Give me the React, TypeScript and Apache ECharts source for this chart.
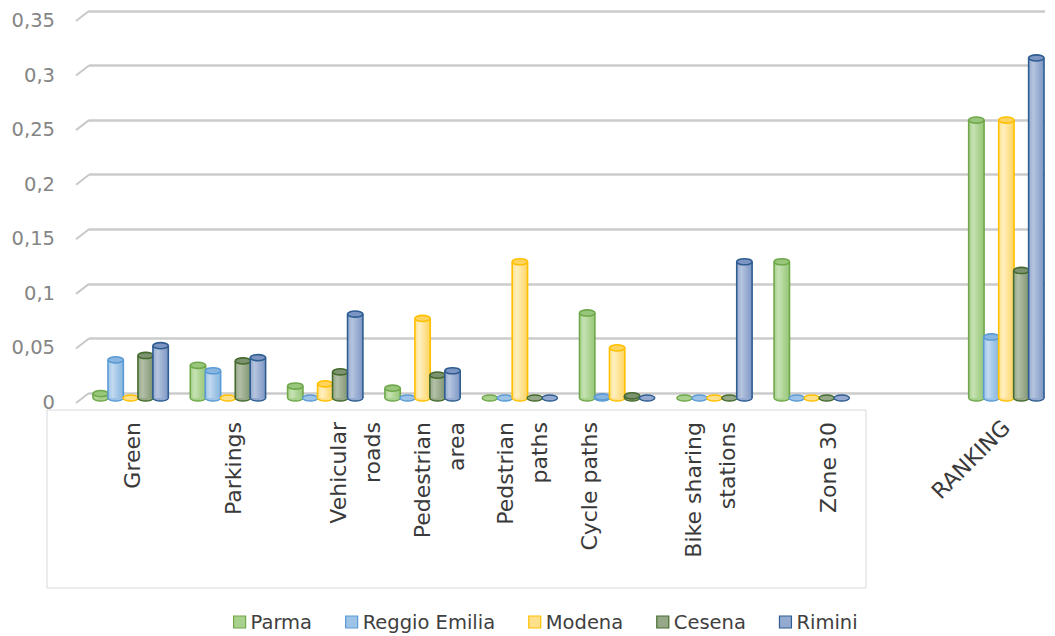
import React, { useEffect, useRef } from "react";
import * as echarts from "echarts";

// ---------- data ----------
const categories = [
  "Green",
  "Parkings",
  "Vehicular\nroads",
  "Pedestrian\narea",
  "Pedstrian\npaths",
  "Cycle paths",
  "Bike sharing\nstations",
  "Zone 30",
  "",
  "RANKING",
];
const seriesNames = ["Parma", "Reggio Emilia", "Modena", "Cesena", "Rimini"];
const parma = [0.004, 0.03, 0.011, 0.009, 0, 0.078, 0, 0.125, null, 0.255];
const reggioEmilia = [0.035, 0.025, 0, 0, 0, 0.001, 0, 0, null, 0.056];
const modena = [0, 0, 0.013, 0.073, 0.125, 0.046, 0, 0, null, 0.255];
const cesena = [0.039, 0.034, 0.024, 0.021, 0, 0.002, 0, 0, null, 0.117];
const rimini = [0.048, 0.037, 0.077, 0.025, 0, 0, 0.125, 0, null, 0.312];
const yTicks = [0, 0.05, 0.1, 0.15, 0.2, 0.25, 0.3, 0.35];

// ---------- styles ----------
const palette = [
  { edge: "#6fa84a", light: "#c6e2b3", mid: "#a9d18e", top: "#98c77b" },
  { edge: "#5b9bd5", light: "#c2daf1", mid: "#9dc3e6", top: "#88b6e0" },
  { edge: "#ffc000", light: "#fff0c0", mid: "#ffe08a", top: "#ffd45e" },
  { edge: "#466b2e", light: "#b3c0a8", mid: "#96a888", top: "#7d9270" },
  { edge: "#2e5d92", light: "#b6c5df", mid: "#95aad0", top: "#7c95c2" },
];
// horizontal nudge (px) of each category label, as in the original layout
const labelNudge = [2, 6, 30, 17, 3, -28, -4, 17, 0, 0];
const labelFont = { fontFamily: "DejaVu Sans", fontSize: 22, lineHeight: 34, color: "#3a3a3a" };

const allValues = [parma, reggioEmilia, modena, cesena, rimini];

function makeBarRender(si: number) {
  return (params: any, api: any) => {
    const ci = api.value(0);
    const v = api.value(1);
    const band = api.size([1, 0])[0];
    const step = band * 0.154;
    const w = band * 0.158;
    const c0 = api.coord([ci, 0]);
    const c1 = api.coord([ci, v]);
    const cx = c0[0] + (si - 2) * step;
    const baseY = c0[1];
    const topY = c1[1];
    const rx = w / 2;
    const ry = w * 0.2;
    const col = palette[si];
    const grad = new echarts.graphic.LinearGradient(0, 0, 1, 0, [
      { offset: 0, color: col.mid },
      { offset: 0.3, color: col.light },
      { offset: 0.7, color: col.mid },
      { offset: 1, color: col.top },
    ]);
    const children: any[] = [
      {
        type: "ellipse",
        shape: { cx, cy: baseY, rx, ry },
        style: { fill: col.mid, stroke: col.edge, lineWidth: 1.4 },
      },
    ];
    if (baseY - topY > 0.8) {
      children.push(
        {
          type: "rect",
          shape: { x: cx - rx, y: topY, width: w, height: baseY - topY },
          style: { fill: grad },
        },
        {
          type: "line",
          shape: { x1: cx - rx, y1: topY, x2: cx - rx, y2: baseY },
          style: { stroke: col.edge, lineWidth: 1.6 },
        },
        {
          type: "line",
          shape: { x1: cx + rx, y1: topY, x2: cx + rx, y2: baseY },
          style: { stroke: col.edge, lineWidth: 1.6 },
        },
        {
          type: "ellipse",
          shape: { cx, cy: topY, rx, ry },
          style: { fill: col.top, stroke: col.edge, lineWidth: 1.6 },
        }
      );
    }
    return { type: "group", children };
  };
}

export default function App() {
  const ref = useRef<HTMLDivElement>(null);
  useEffect(() => {
    if (!ref.current) return;
    const chart = echarts.init(ref.current, undefined, { renderer: "svg" });

    // rich styles: token padding (with a fixed lineHeight) shifts each label sideways
    const rich: any = { t: { ...labelFont } };
    labelNudge.forEach((n, i) => {
      rich["c" + i] = {
        ...labelFont,
        padding: n >= 0 ? [2 * n, 0, 0, 0] : [0, 0, -2 * n, 0],
      };
    });
    const catFormatter = (v: string, idx: number) => {
      if (v === "RANKING" || v === "") return "";
      return v
        .split("\n")
        .map((l) => "{c" + idx + "|" + l + "}")
        .join("\n");
    };

    const barSeries = seriesNames.map((name, si) => ({
      name,
      type: "custom",
      xAxisIndex: 1,
      yAxisIndex: 1,
      renderItem: makeBarRender(si),
      encode: { x: 0, y: 1 },
      itemStyle: { color: palette[si].mid, borderColor: palette[si].edge },
      data: allValues[si]
        .map((v, i) => (v === null ? null : [i, v]))
        .filter((d) => d !== null),
      silent: true,
    }));
    const option: any = {
      animation: false,
      backgroundColor: "#ffffff",
      grid: [
        { left: 89, right: 10, top: 11, bottom: 243 },
        { left: 82, right: -2, top: 16.5, bottom: 238 },
      ],
      xAxis: [
        { type: "value", gridIndex: 0, min: 0, max: 1, show: false },
        {
          type: "category",
          gridIndex: 1,
          data: categories,
          position: "bottom",
          axisLine: { show: false },
          axisTick: { show: false },
          splitLine: { show: false },
          axisLabel: {
            interval: 0,
            rotate: 90,
            margin: 24,
            ...labelFont,
            rich,
            formatter: catFormatter,
          },
        },
        {
          type: "category",
          gridIndex: 1,
          data: categories,
          position: "bottom",
          offset: 0,
          axisLine: { show: false },
          axisTick: { show: false },
          splitLine: { show: false },
          axisLabel: {
            interval: 0,
            rotate: 45,
            margin: 26,
            fontFamily: "DejaVu Sans",
            fontSize: 22,
            color: "#3a3a3a",
            formatter: (v: string) => (v === "RANKING" ? v : ""),
          },
        },
      ],
      yAxis: [
        {
          type: "value",
          gridIndex: 0,
          min: 0,
          max: 0.35,
          interval: 0.05,
          axisLine: { show: false },
          axisTick: { show: false },
          axisLabel: { show: false },
          splitLine: { show: true, lineStyle: { color: "#cbcbcb", width: 2.5 } },
        },
        {
          type: "value",
          gridIndex: 1,
          min: 0,
          max: 0.35,
          interval: 0.05,
          axisLine: { show: false },
          axisTick: { show: false },
          splitLine: { show: false },
          axisLabel: {
            margin: 27,
            fontFamily: "DejaVu Sans",
            fontSize: 19.5,
            color: "#858585",
            rich: {
              y: { fontFamily: "DejaVu Sans", fontSize: 19.5, color: "#858585", padding: [8, 0, 0, 0] },
            },
            formatter: (v: number) =>
              "{y|" + String(Math.round(v * 100) / 100).replace(".", ",") + "}",
          },
        },
      ],
      legend: {
        left: 233,
        top: 612,
        padding: 0,
        itemWidth: 12,
        itemHeight: 12,
        itemGap: 33,
        textStyle: { fontFamily: "DejaVu Sans", fontSize: 19.5, color: "#404040" },
        data: seriesNames.map((n, si) => ({
          name: n,
          icon: "rect",
          itemStyle: { color: palette[si].mid, borderColor: palette[si].edge, borderWidth: 1.2 },
        })),
      },
      graphic: [
        {
          type: "rect",
          shape: { x: 47, y: 410, width: 819, height: 178 },
          style: { fill: "none", stroke: "#d9d9d9", lineWidth: 1 },
          silent: true,
        },
      ],
      series: [
        {
          name: "wall",
          type: "custom",
          xAxisIndex: 0,
          yAxisIndex: 0,
          encode: { x: 0, y: 1 },
          silent: true,
          data: yTicks.map((t) => [0, t]),
          renderItem: (params: any, api: any) => {
            const p = api.coord([0, api.value(1)]);
            const x0 = params.coordSys.x;
            return {
              type: "line",
              shape: { x1: x0 - 13, y1: p[1] + 10, x2: x0, y2: p[1] },
              style: { stroke: "#c8c8c8", lineWidth: 2 },
            };
          },
        },
        ...barSeries,
      ],
    };
    chart.setOption(option);
    return () => chart.dispose();
  }, []);
  return (
    <div
      ref={ref}
      style={{ position: "fixed", left: 0, top: 0, width: 1055, height: 636, background: "#fff" }}
    />
  );
}
